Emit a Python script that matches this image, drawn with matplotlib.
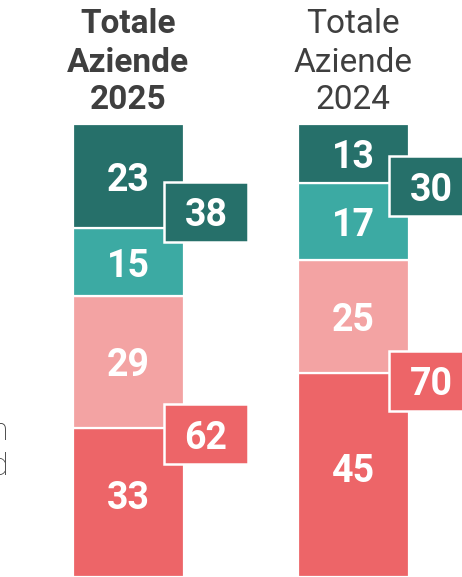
import matplotlib
matplotlib.use("Agg")
import matplotlib.pyplot as plt
from matplotlib.patches import Rectangle
import numpy as np

# ---- data ----
categories = ["Totale\nAziende\n2025", "Totale\nAziende\n2024"]
seg_dark = [23, 13]
seg_teal = [15, 17]
seg_pink = [29, 25]
seg_red = [33, 45]
group_top = [38, 30]
group_bottom = [62, 70]
left_fragments = ["n", "d"]

# ---- style ----
C_DARK = "#26706A"
C_TEAL = "#3CAAA3"
C_PINK = "#F3A3A3"
C_RED = "#ED6568"
TXT = "#3F3F3F"

W, H, DPI = 462, 577, 100
fig = plt.figure(figsize=(W / DPI, H / DPI), dpi=DPI)
top_px = 124
ax = fig.add_axes([0, 0, 1, (H - top_px) / H])
ax.set_xlim(-128 / 225, (W - 128) / 225)
ax.set_ylim(0, 100)
ax.axis("off")

NUM_KW = dict(ha="center", va="center", color="white", fontsize=27,
              fontweight="bold", family="Roboto", textcoords="offset pixels")

x = np.arange(len(categories))
bw = 111 / 225
stack = [seg_red, seg_pink, seg_teal, seg_dark]
colors = [C_RED, C_PINK, C_TEAL, C_DARK]
label_dy = [4, -4, -4, -4]  # pixel nudges of the in-bar labels per layer
bottom = np.zeros(len(categories))
for vals, col, dy in zip(stack, colors, label_dy):
    v = np.array(vals, dtype=float)
    ax.bar(x, v, bottom=bottom, width=bw, color=col, edgecolor="white",
           linewidth=1.6, zorder=2)
    for i in range(len(x)):
        ax.annotate(f"{vals[i]}", xy=(x[i], bottom[i] + v[i] / 2), xytext=(0, dy),
                    zorder=3, **NUM_KW)
    bottom += v

# group boxes (layout positions)
box_dx = 0.16
box_w = 84 / 225
box_h = 60 / 4.53
box_centers = [[80.6, 31.5], [86.3, 43.3]]
for i in range(len(x)):
    for j, (val, col) in enumerate([(group_top[i], C_DARK), (group_bottom[i], C_RED)]):
        cy = box_centers[i][j]
        x0 = x[i] + box_dx
        ax.add_patch(Rectangle((x0, cy - box_h / 2), box_w, box_h, facecolor=col,
                               edgecolor="white", linewidth=1.8, zorder=4, clip_on=False))
        ax.annotate(f"{val}", xy=(x0 + box_w / 2, cy), xytext=(0, -4), zorder=5,
                    annotation_clip=False, **NUM_KW)

# titles
baselines = [33, 72, 109]
for i, cat in enumerate(categories):
    for k, line in enumerate(cat.split("\n")):
        ax.annotate(line, xy=(x[i], H - baselines[k]), xycoords=("data", "figure pixels"),
                    ha="center", va="baseline", fontsize=24, color=TXT, family="Roboto",
                    fontweight="bold" if i == 0 else "normal", annotation_clip=False)

# cut-off text at left edge
for frag, yb in zip(left_fragments, [440, 475]):
    fig.text(8 / W, 1 - yb / H, frag, ha="right", va="baseline", fontsize=23,
             color="#333333", family="Roboto", fontweight="light")

fig.savefig("out.png", dpi=DPI)
